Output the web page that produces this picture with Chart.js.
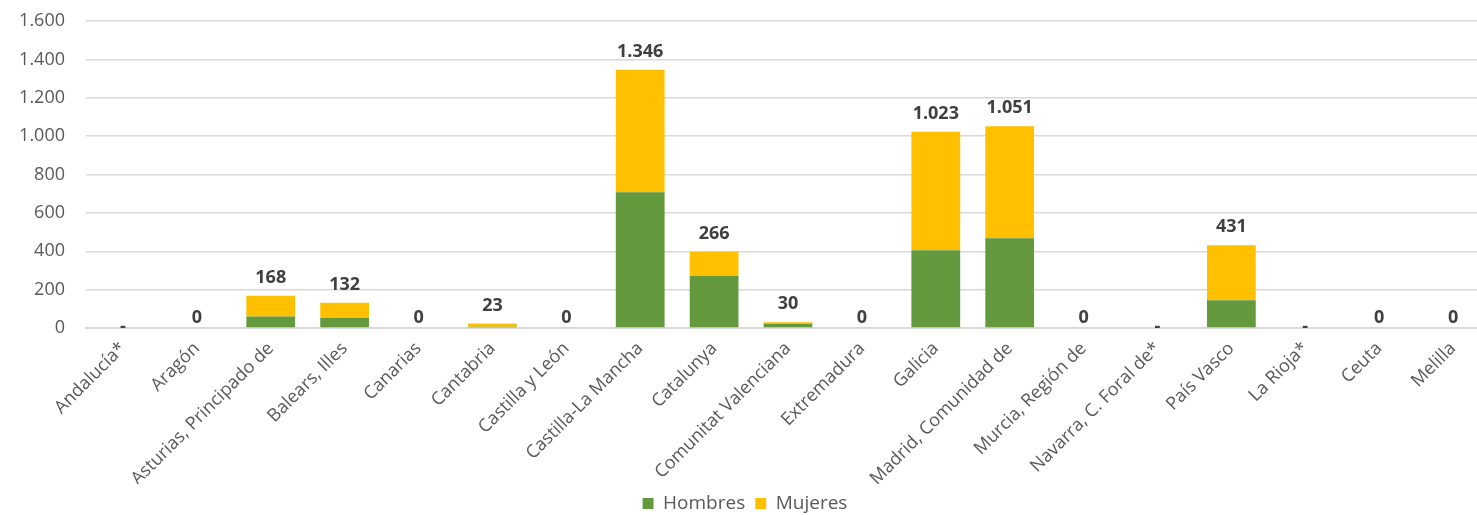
<!DOCTYPE html>
<html>
<head>
<meta charset="utf-8">
<script src="https://cdn.jsdelivr.net/npm/chart.js@4/dist/chart.umd.min.js"></script>
<style>
  html, body { margin: 0; padding: 0; background: #fff; overflow: hidden; }
  #wrap { width: 1492px; height: 515px; position: relative; }
</style>
</head>
<body>
<div id="wrap"><canvas id="chart"></canvas></div>
<script>
var regiones = ['Andalucía*', 'Aragón', 'Asturias, Principado de', 'Balears, Illes', 'Canarias',
    'Cantabria', 'Castilla y León', 'Castilla-La Mancha', 'Catalunya', 'Comunitat Valenciana',
    'Extremadura', 'Galicia', 'Madrid, Comunidad de', 'Murcia, Región de', 'Navarra, C. Foral de*',
    'País Vasco', 'La Rioja*', 'Ceuta', 'Melilla']

var hombres = [null, 0, 60, 52, 0, 7, 0, 707, 272, 22, 0, 405, 468, 0, null, 145, null, 0, 0]
var mujeres = [null, 0, 108, 80, 0, 16, 0, 639, 126, 8, 0, 618, 583, 0, null, 286, null, 0, 0]

// totals printed over each bar (null = "-")
var totales = [null, 0, 168, 132, 0, 23, 0, 1346, 266, 30, 0, 1023, 1051, 0, null, 431, null, 0, 0]

var yTicks = [0, 200, 400, 600, 800, 1000, 1200, 1400, 1600]

function miles(n) {
    return String(n).replace(/\B(?=(\d{3})+(?!\d))/g, '.')
}

var FONT = "'Open Sans', 'Liberation Sans', sans-serif"
var PLOT_BOTTOM = 328
var LEGEND_SHIFT = 8

// labels with the totals above each stack
var totalLabels = {
    id: 'totalLabels',
    afterLayout: function (chart) {
        // push the legend lower, and let the x labels use that space
        chart.legend.top += LEGEND_SHIFT
        chart.legend.bottom += LEGEND_SHIFT
        chart.scales.x.bottom += LEGEND_SHIFT
    },
    afterDatasetsDraw: function (chart) {
        var ctx = chart.ctx
        var y0 = chart.scales.y.getPixelForValue(0)
        ctx.save()
        ctx.font = 'bold 18px ' + FONT
        ctx.fillStyle = '#404040'
        ctx.textAlign = 'center'
        ctx.textBaseline = 'bottom'
        for (var i = 0; i < regiones.length; i++) {
            var x = chart.scales.x.getPixelForValue(i)
            var top = y0
            chart.data.datasets.forEach(function (ds, d) {
                var el = chart.getDatasetMeta(d).data[i]
                if (ds.data[i] && el && el.y < top) top = el.y
            })
            var txt = totales[i] === null ? '-' : miles(totales[i])
            if (totales[i] === null) {
                ctx.textBaseline = 'middle'
                ctx.fillText(txt, x, y0 - 1)
                ctx.textBaseline = 'bottom'
            } else if (top === y0) {
                ctx.fillText(txt, x, y0 - 1)
            } else {
                ctx.fillText(txt, x, top - 9)
            }
        }
        ctx.restore()
    }
}

var data = {
    labels: regiones,
    datasets: [
        {
            label: 'Hombres',
            backgroundColor: '#64993e',
            data: hombres,
        },
        {
            label: 'Mujeres',
            backgroundColor: '#ffc000',
            data: mujeres,
        },
    ],
}

var config = {
    type: 'bar',
    data: data,
    plugins: [totalLabels],
    options: {
        responsive: true,
        maintainAspectRatio: false,
        animation: false,
        layout: { padding: { top: 21, right: 2, left: 0, bottom: 0 } },
        datasets: {
            bar: { barPercentage: 1, categoryPercentage: 0.66 }
        },
        plugins: {
            legend: {
                position: 'bottom',
                labels: {
                    boxWidth: 11,
                    boxHeight: 11,
                    padding: 10,
                    color: '#595959',
                    font: { family: FONT, size: 19 },
                },
            },
            tooltip: { enabled: false },
        },
        scales: {
            x: {
                stacked: true,
                grid: { display: false },
                border: { color: '#d9d9d9', width: 2 },
                afterFit: function (scale) {
                    var c = scale.chart
                    scale.height = c.height - PLOT_BOTTOM - c.legend.height
                },
                ticks: {
                    color: '#595959',
                    font: { family: FONT, size: 18 },
                    minRotation: 45,
                    maxRotation: 45,
                    autoSkip: false,
                    padding: 2,
                },
            },
            y: {
                stacked: true,
                min: 0,
                max: 1600,
                afterFit: function (scale) { scale.width = 86 },
                afterBuildTicks: function (scale) {
                    scale.ticks = yTicks.map(function (v) { return { value: v } })
                },
                border: { display: false },
                grid: {
                    color: '#d9d9d9',
                    lineWidth: 1.5,
                    drawTicks: true,
                    tickLength: 18,
                    tickColor: 'rgba(0,0,0,0)',
                },
                ticks: {
                    color: '#595959',
                    font: { family: FONT, size: 18 },
                    padding: 3,
                    callback: function (v) { return miles(v) },
                },
            },
        },
    },
}

var canvas = document.getElementById('chart')
var chart = new Chart(canvas, config)
</script>
</body>
</html>
